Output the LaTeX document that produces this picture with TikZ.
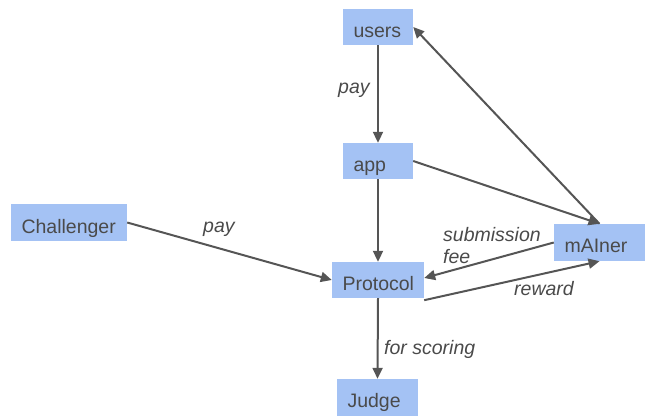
\documentclass[tikz,border=0pt]{standalone}
\usepackage{fontspec}
\setmainfont{Liberation Sans}
\usetikzlibrary{arrows.meta}
\definecolor{boxfill}{HTML}{A4C2F4}
\definecolor{ink}{HTML}{4A4A4A}
\definecolor{wire}{HTML}{555555}
\tikzset{
  actor/.style={fill=boxfill, draw=none, inner xsep=10.5pt, inner ysep=0pt,
    text height=28pt, text depth=8pt, align=left, text=ink,
    font=\fontsize{19.5}{23}\selectfont},
  tag/.style={anchor=base west, inner sep=0pt, text=ink,
    font=\fontsize{19.5}{23}\selectfont\itshape},
  flow/.style={draw=wire, line width=2pt, -{Triangle[length=11pt,width=10pt]}}
}
\begin{document}
\begin{tikzpicture}[x=1pt,y=-1pt]
\useasboundingbox (0,0) rectangle (645,415);
\clip (0,0) rectangle (645,415);

% participants
\node[actor, text width=49pt]  (users)      at (378,27)    {users};
\node[actor, text width=49pt]  (app)        at (378,161)   {app};
\node[actor, text width=71pt]  (protocol)   at (378,280)   {Protocol};
\node[actor, text width=70pt, text depth=9pt] (mainer) at (599.5,242.5) {mAIner};
\node[actor, text width=95pt, text depth=8pt, text height=29pt] (challenger) at (69,222.5) {Challenger};
\node[actor, text width=60pt, text depth=10pt] (judge) at (377.5,398) {Judge};

% flows
\draw[flow] (users.south) -- (app.north);
\draw[flow] (app.south) -- (protocol.north);
\draw[flow] (protocol.south) -- (judge.north);
\draw[flow] (mainer.north) -- (users.east);
\draw[flow] (app.east) -- (mainer.north);
\draw[flow] (mainer.west) -- ([yshift=2pt]protocol.east);
\draw[flow] ([yshift=-2pt]protocol.south east) -- (mainer.south);
\draw[flow] (challenger.east) -- (protocol.west);

% labels
\node[tag] (paytop)  at (338,93)  {pay};
\node[tag] (payleft) at (203,232) {pay};
\node[tag] (subm)    at (443,241) {submission};
\node[tag] (fee)     at (443,263) {fee};
\node[tag] (reward)  at (514,295) {reward};
\node[tag] (scoring) at (384,354) {for scoring};
\end{tikzpicture}
\end{document}
